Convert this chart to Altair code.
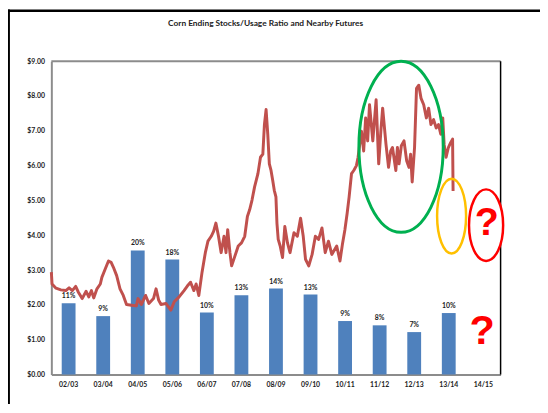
import altair as alt
import pandas as pd

FONT = "Lato"

title_text = "Corn Ending Stocks/Usage Ratio and Nearby Futures"

seasons = ["02/03", "03/04", "04/05", "05/06", "06/07", "07/08", "08/09",
           "09/10", "10/11", "11/12", "12/13", "13/14", "14/15"]
ratio_pct = [11.6, 9.5, 20.2, 18.7, 10.1, 12.9, 14.0, 13.0, 8.7, 8.0, 6.9, 10.0]
ratio_labels = ["11%", "9%", "20%", "18%", "10%", "13%", "14%", "13%",
                "9%", "8%", "7%", "10%"]

# nearby corn futures, $/bu (decimal year)
futures_year = [
    2002.667, 2002.687, 2002.801, 2002.943, 2003.086, 2003.180, 2003.274, 2003.371,
    2003.445, 2003.559, 2003.673, 2003.750, 2003.827, 2003.893, 2003.987, 2004.084,
    2004.129, 2004.226, 2004.320, 2004.397, 2004.463, 2004.557, 2004.654, 2004.748,
    2004.842, 2004.985, 2005.127, 2005.175, 2005.270, 2005.395, 2005.489, 2005.623,
    2005.697, 2005.774, 2005.840, 2005.982, 2006.125, 2006.222, 2006.364, 2006.507,
    2006.601, 2006.695, 2006.792, 2006.857, 2006.934, 2007.028, 2007.123, 2007.199,
    2007.294, 2007.362, 2007.428, 2007.504, 2007.579, 2007.664, 2007.721, 2007.770,
    2007.835, 2007.884, 2007.978, 2008.075, 2008.169, 2008.263, 2008.340, 2008.405,
    2008.474, 2008.548, 2008.645, 2008.719, 2008.787, 2008.833, 2008.881, 2008.930,
    2008.975, 2009.024, 2009.072, 2009.118, 2009.166, 2009.195, 2009.232, 2009.289,
    2009.357, 2009.423, 2009.500, 2009.574, 2009.688, 2009.785, 2009.879, 2009.956,
    2010.022, 2010.116, 2010.213, 2010.307, 2010.401, 2010.498, 2010.592, 2010.686,
    2010.783, 2010.925, 2011.019, 2011.096, 2011.162, 2011.227, 2011.284, 2011.353,
    2011.418, 2011.495, 2011.543, 2011.640, 2011.705, 2011.762, 2011.820, 2011.874,
    2011.969, 2012.065, 2012.140, 2012.202, 2012.254, 2012.351, 2012.425, 2012.487,
    2012.539, 2012.636, 2012.681, 2012.729, 2012.795, 2012.872, 2012.949, 2013.015,
    2013.063, 2013.109, 2013.177, 2013.234, 2013.300, 2013.366, 2013.442, 2013.519,
    2013.585, 2013.651, 2013.728, 2013.804, 2013.870, 2013.936, 2013.993, 2014.033,
    2014.090, 2014.156, 2014.221, 2014.278, 2014.292,
]
futures_price = [
    2.94, 2.60, 2.48, 2.43, 2.41, 2.49, 2.41, 2.53,
    2.37, 2.18, 2.39, 2.23, 2.41, 2.20, 2.46, 2.60,
    2.79, 3.03, 3.26, 3.22, 3.08, 2.84, 2.46, 2.27,
    2.01, 1.99, 1.97, 2.18, 2.01, 2.27, 2.04, 2.18,
    2.46, 2.13, 2.01, 2.04, 1.85, 2.09, 2.23, 2.41,
    2.54, 2.65, 2.41, 2.60, 2.27, 2.94, 3.50, 3.83,
    3.97, 4.11, 4.35, 3.97, 3.50, 3.97, 3.50, 4.16,
    3.50, 3.12, 3.40, 3.69, 3.78, 3.97, 4.54, 4.73,
    5.01, 5.39, 5.77, 6.24, 6.33, 7.18, 7.61, 6.90,
    6.05, 5.86, 5.58, 5.29, 5.10, 4.35, 3.88, 3.69,
    3.36, 4.25, 3.78, 3.50, 4.07, 3.97, 4.49, 3.97,
    3.31, 3.12, 3.45, 3.97, 3.88, 4.21, 3.50, 3.83,
    3.45, 3.69, 3.26, 3.78, 4.16, 4.63, 5.10, 5.77,
    5.86, 6.00, 6.24, 6.99, 6.42, 7.37, 6.71, 7.75,
    6.71, 7.89, 6.05, 6.99, 7.65, 6.61, 5.95, 6.42,
    6.52, 5.86, 6.52, 6.05, 6.57, 6.71, 6.14, 5.95,
    6.33, 5.53, 6.52, 8.22, 8.31, 7.93, 7.75, 7.37,
    7.65, 7.18, 7.32, 7.08, 7.18, 6.90, 7.37, 6.61,
    6.24, 6.52, 6.66, 6.76, 5.27,
]

# annotation centres (decimal year, $)
green_ring = {"year": 2012.787, "price": 6.54}
orange_ring = {"year": 2014.249, "price": 4.55}
red_ring = {"year": 2015.247, "price": 4.29}
qmark_upper = {"year": 2015.267, "price": 4.36}
qmark_lower = {"year": 2015.133, "price": 1.23}

YEAR_DOMAIN = [2002.667, 2015.667]
PRICE_DOMAIN = [0, 9]
RATIO_DOMAIN = [0, 51]

W, H = 456, 318

bars_df = pd.DataFrame({"season": seasons[:len(ratio_pct)], "ratio": ratio_pct,
                        "label": ratio_labels})
fut_df = pd.DataFrame({"year": futures_year, "price": futures_price})
one = pd.DataFrame({"k": [0]})

band_scale = alt.Scale(domain=seasons, paddingInner=0.6, paddingOuter=0.3)
x_band = alt.X("season:N", sort=seasons, scale=band_scale,
               axis=alt.Axis(title=None, labelAngle=0, ticks=False, domainColor="#8c8c8c",
                             domainWidth=2, labelPadding=6, labelFont=FONT, labelFontSize=7,
                             labelFontWeight="bold", labelColor="#222222"))
x_band_noaxis = alt.X("season:N", sort=seasons, scale=band_scale, axis=None)
y_ratio = alt.Y("ratio:Q", scale=alt.Scale(domain=RATIO_DOMAIN, nice=False), axis=None)

x_year = alt.X("year:Q", scale=alt.Scale(domain=YEAR_DOMAIN, nice=False, zero=False), axis=None)
y_price_axis = alt.Y("price:Q", scale=alt.Scale(domain=PRICE_DOMAIN, nice=False),
                     axis=alt.Axis(title=None, values=list(range(10)), format="$.2f",
                                   ticks=False, grid=False, domainColor="#8c8c8c",
                                   domainWidth=2, labelPadding=7, labelFont=FONT,
                                   labelFontSize=7, labelFontWeight="bold",
                                   labelColor="#222222"))
y_price = alt.Y("price:Q", scale=alt.Scale(domain=PRICE_DOMAIN, nice=False), axis=None)

bars = alt.Chart(bars_df).mark_bar(color="#4F81BD").encode(x=x_band, y=y_ratio)
bar_labels = alt.Chart(bars_df).mark_text(
    baseline="bottom", dy=-4, font=FONT, fontSize=7, fontWeight="bold", color="#222222"
).encode(x=x_band_noaxis, y=y_ratio, text="label:N")

line = alt.Chart(fut_df).mark_line(
    color="#C0504D", strokeWidth=3, strokeJoin="round"
).encode(x=x_year, y=y_price_axis)

top_rule = alt.Chart(one).mark_rule(color="#8c8c8c", strokeWidth=2).encode(
    x=alt.value(0), x2=alt.value(W), y=alt.value(0))
right_rule = alt.Chart(one).mark_rule(color="#000000", strokeWidth=1.5).encode(
    x=alt.value(W), y=alt.value(0), y2=alt.value(H))


def ring(center, ratio, ry, color, width, fill=None):
    path = (f"M {-ratio} 0 A {ratio} 1 0 1 0 {ratio} 0 "
            f"A {ratio} 1 0 1 0 {-ratio} 0 Z")
    kw = dict(shape=path, size=(2 * ry) ** 2, stroke=color, strokeWidth=width,
              opacity=1, strokeOpacity=1)
    if fill:
        kw.update(filled=True, fill=fill, fillOpacity=1)
    else:
        kw.update(filled=False)
    return alt.Chart(pd.DataFrame([center])).mark_point(**kw).encode(x=x_year, y=y_price)


green = ring(green_ring, 0.493, 86.8, "#00B050", 3)
orange = ring(orange_ring, 0.387, 38, "#FFC000", 2.5)
red = ring(red_ring, 0.477, 36.3, "#FF0000", 2.5, fill="#FFFFFF")


def qmark(center, size):
    return alt.Chart(pd.DataFrame([dict(center, t="?")])).mark_text(
        font="Liberation Sans", fontWeight="bold", fontSize=size, color="#FF0000",
        baseline="middle", align="center"
    ).encode(x=x_year, y=y_price, text="t:N")


q1 = qmark(qmark_upper, 40)
q2 = qmark(qmark_lower, 42)

title = alt.Chart(pd.DataFrame({"t": [title_text]})).mark_text(
    font=FONT, fontSize=8.5, fontWeight="bold", color="#222222",
    baseline="middle", align="center"
).encode(x=alt.value(217.5), y=alt.value(-38.3), text="t:N")

frame_left = alt.Chart(one).mark_rule(color="#000000", strokeWidth=2.5).encode(
    x=alt.value(-43.3), y=alt.value(-52.5), y2=alt.value(H + 30))
frame_top = alt.Chart(one).mark_rule(color="#000000", strokeWidth=2.5).encode(
    x=alt.value(-44.5), x2=alt.value(W + 40), y=alt.value(-51.3))

chart = alt.layer(
    bars, line, bar_labels, top_rule, right_rule, green, orange, red, q1, q2,
    title, frame_left, frame_top
).resolve_scale(
    x="independent", y="independent"
).properties(
    width=W, height=H,
    autosize=alt.AutoSizeParams(type="none"),
    padding={"left": 44, "top": 51, "right": 40, "bottom": 28},
    background="#ffffff",
).configure_view(stroke=None)

chart.save("out.html", embed_options={"renderer": "svg", "actions": False})
